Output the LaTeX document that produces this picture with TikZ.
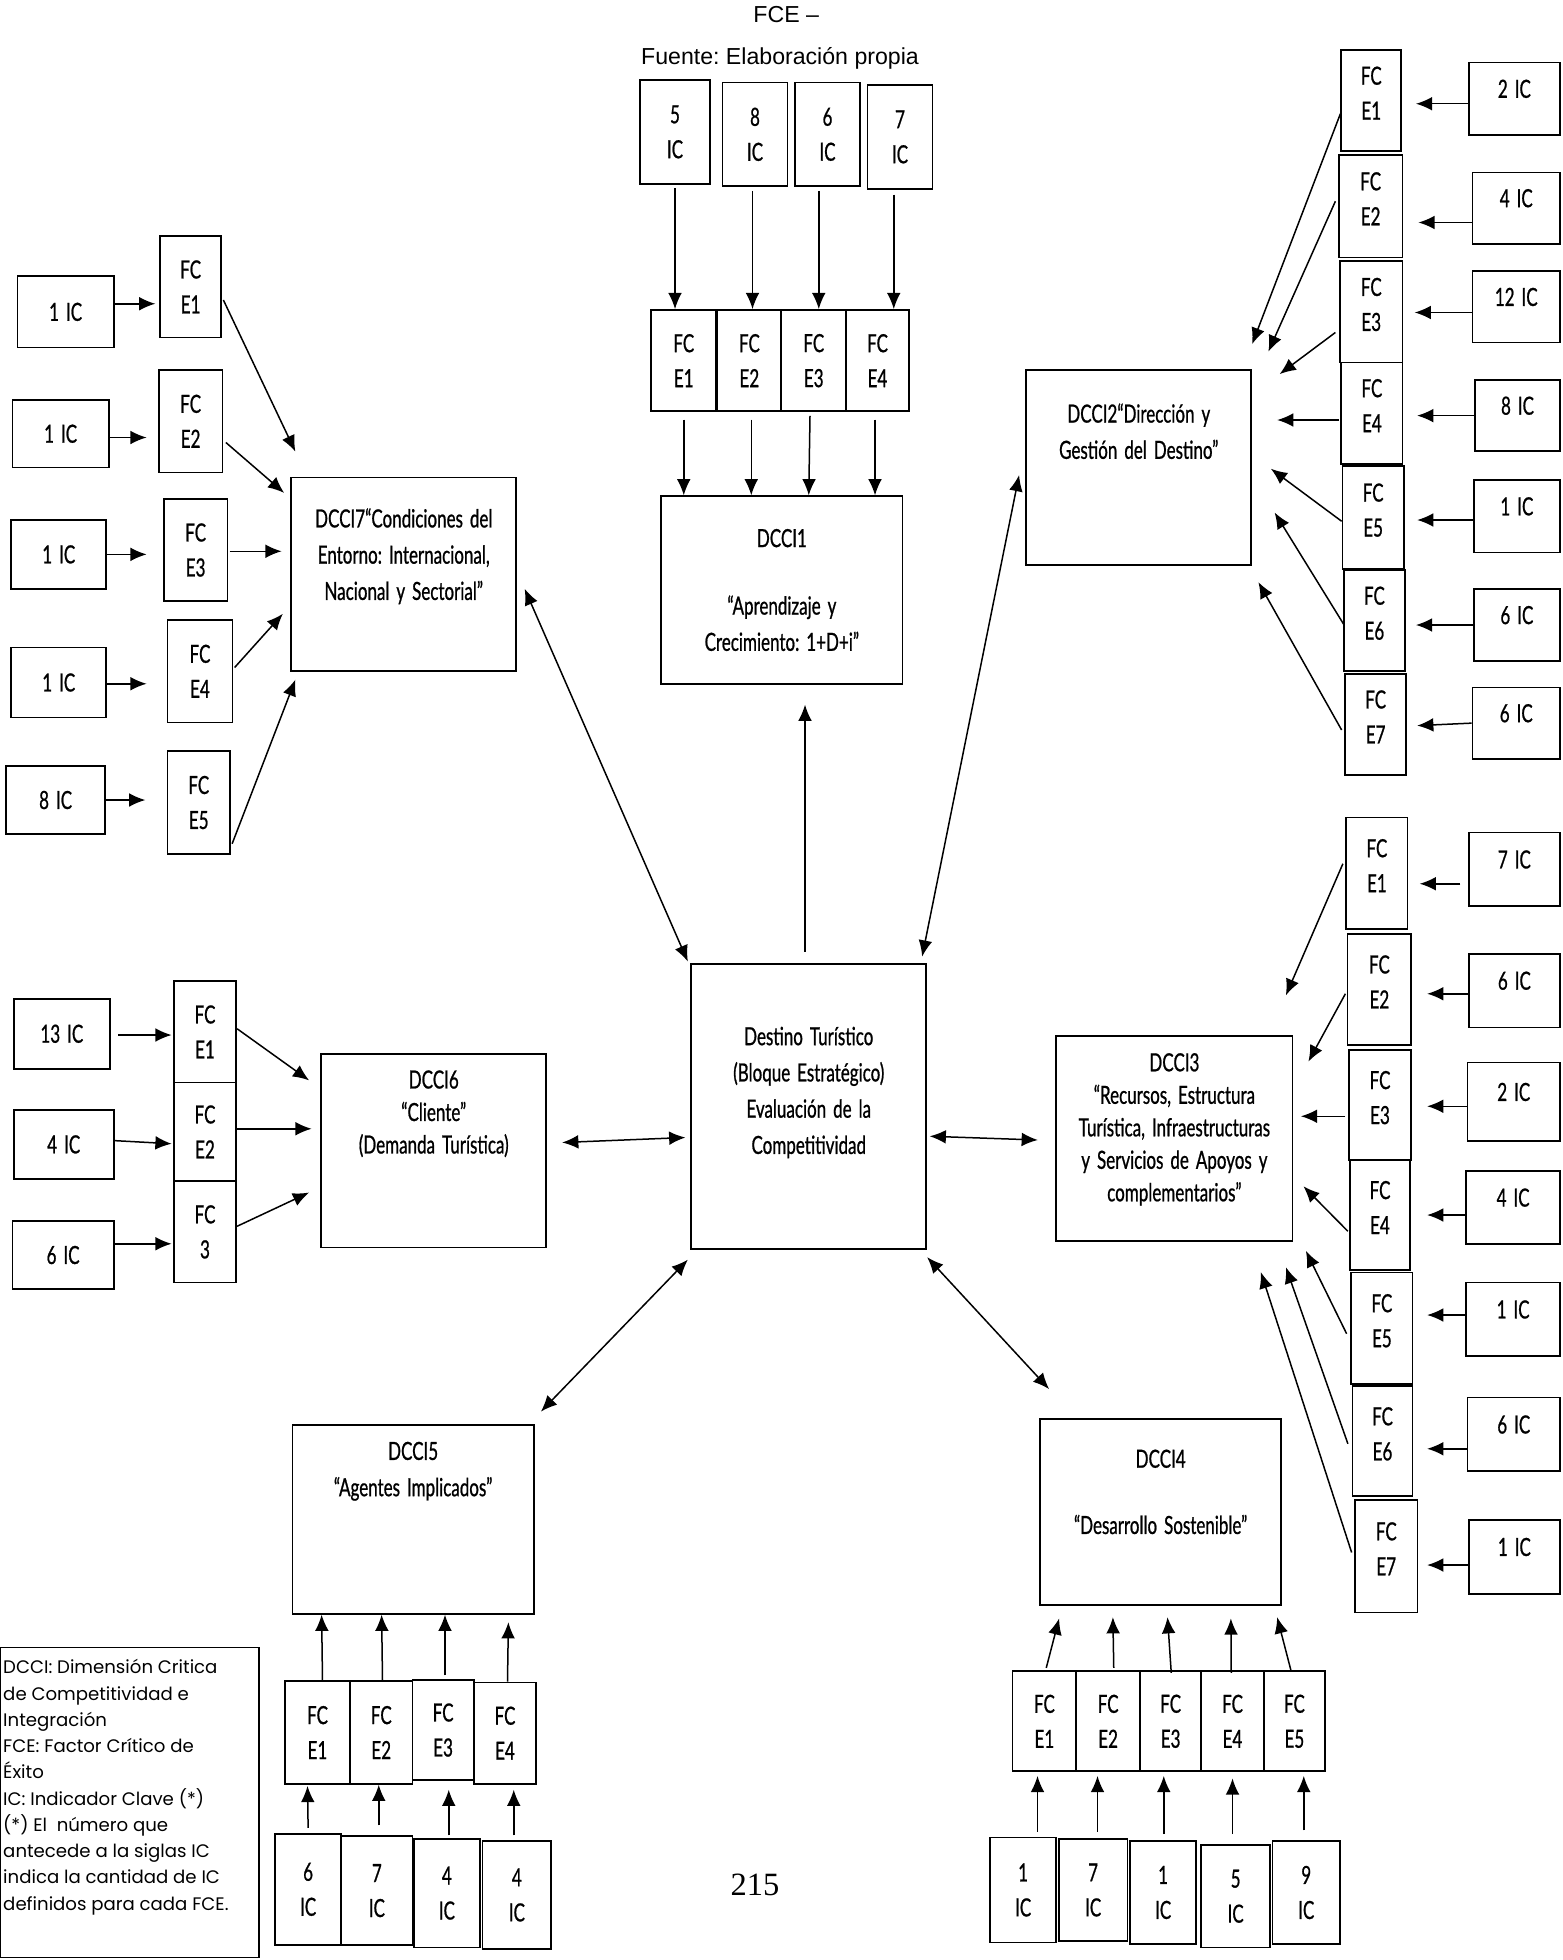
\documentclass[tikz,border=0pt]{standalone}
\usepackage{fontspec}
\usepackage{tikz}
\usetikzlibrary{arrows.meta}
\newfontfamily\dfont{Lato}[FakeStretch=0.68,WordSpace=1.6,FakeBold=0.8]
\newfontfamily\lfont{Poppins}
\newfontfamily\afont{Liberation Sans}
\newfontfamily\tfont{Liberation Serif}
\frenchspacing
\tikzset{
box/.style={draw, line width=1.4pt, inner sep=0pt, align=center, font=\dfont\fontsize{20}{28}\selectfont},
sz/.style 2 args={minimum width=#1pt, minimum height=#2pt},
icr/.style={box, text depth=16pt},
fcr/.style={box, text depth=12pt},
dtext/.style={align=center, inner sep=0pt, font=\dfont\fontsize{20}{29}\selectfont},
arr/.style={line width=1.2pt, -{Latex[length=13pt,width=11pt]}},
darr/.style={line width=1.2pt, {Latex[length=13pt,width=11pt]}-{Latex[length=13pt,width=11pt]}}
}
\begin{document}
\begin{tikzpicture}[x=1pt,y=-1pt]
\useasboundingbox (0,0) rectangle (1250,1568);
\node[font=\afont\fontsize{18.5}{20}\selectfont] (cap1) at (629,12) {FCE –};
\node[font=\afont\fontsize{18.5}{20}\selectfont] (cap2) at (624,47) {Fuente: Elaboración propia};
\node[font=\tfont\fontsize{26}{28}\selectfont] (pnum) at (604,1508) {215};
\node[box, sz={188}{228}] (dest) at (647,885) {};
\node[dtext] (destt) at ([yshift=11pt]dest.center) {Destino Turístico\\(Bloque Estratégico)\\Evaluación de la\\Competitividad};
\node[box, sz={56}{83}] (i11) at (540,105.5) {5\\IC};
\node[box, sz={52}{83}] (i12) at (604,107.5) {8\\IC};
\node[box, sz={52}{83}] (i13) at (662,107.5) {6\\IC};
\node[box, sz={52}{83}] (i14) at (720,109.5) {7\\IC};
\node[box, sz={52}{81}] (f11) at (547,288.5) {FC\\E1};
\node[box, sz={51}{81}] (f12) at (599.5,288.5) {FC\\E2};
\node[box, sz={52}{81}] (f13) at (651,288.5) {FC\\E3};
\node[box, sz={50}{81}] (f14) at (702,288.5) {FC\\E4};
\node[box, sz={193}{150}] (d1) at (625.5,472) {};
\node[dtext] (d1t) at (d1.center) {DCCI1\\[25pt]“Aprendizaje y\\Crecimiento: 1+D+i”};
\draw[arr] ([yshift=-3pt]i11.south) -- ([xshift=-7pt]f11.north);
\draw[arr] ([xshift=-2pt,yshift=-3pt]i12.south) -- ([xshift=2.5pt]f12.north);
\draw[arr] ([xshift=-7pt,yshift=-3pt]i13.south) -- ([xshift=4pt]f13.north);
\draw[arr] ([xshift=-5pt,yshift=-4pt]i14.south) -- ([xshift=13pt]f14.north);
\draw[arr] ([yshift=-6pt]f11.south) -- ([xshift=-78.5pt]d1.north);
\draw[arr] ([xshift=1.5pt,yshift=-6pt]f12.south) -- ([xshift=-24.5pt]d1.north);
\draw[arr] ([xshift=-3pt,yshift=-3pt]f13.south) -- ([xshift=21.5pt]d1.north);
\draw[arr] ([xshift=-2pt,yshift=-6pt]f14.south) -- ([xshift=74.5pt]d1.north);
\draw[arr] ([xshift=-3pt,yshift=9pt]dest.north) -- ([xshift=18.5pt,yshift=-16pt]d1.south);
\node[box, sz={180}{155}] (d7) at (323,459.5) {};
\node[dtext] (d7t) at ([yshift=14.5pt]d7.center) {DCCI7“Condiciones del\\Entorno: Internacional,\\Nacional y Sectorial”};
\node[box, sz={77}{57}] (i71) at (52.5,249.5) {1 IC};
\node[box, sz={49}{81}] (f71) at (152.5,229.5) {FC\\E1};
\node[box, sz={77}{54}] (i72) at (48.5,347) {1 IC};
\node[box, sz={51}{82}] (f72) at (152.5,337) {FC\\E2};
\node[box, sz={76}{55}] (i73) at (47,443.5) {1 IC};
\node[box, sz={51}{82}] (f73) at (156.5,440) {FC\\E3};
\node[box, sz={76}{56}] (i74) at (47,546) {1 IC};
\node[box, sz={52}{82}] (f74) at (160,537) {FC\\E4};
\node[box, sz={79}{54}] (i75) at (44.5,640) {8 IC};
\node[box, sz={50}{82}] (f75) at (159,642) {FC\\E5};
\draw[arr] ([yshift=6.5pt]i71.east) -- ([xshift=-3pt,yshift=-13.5pt]f71.west);
\draw[arr] ([yshift=-3pt]i72.east) -- ([xshift=-9pt,yshift=-13pt]f72.west);
\draw[arr] (i73.east) -- ([xshift=-13pt,yshift=-3.5pt]f73.west);
\draw[arr] ([yshift=-1pt]i74.east) -- ([xshift=-16pt,yshift=-10pt]f74.west);
\draw[arr] (i75.east) -- ([xshift=-17pt,yshift=2pt]f75.west);
\draw[arr] ([xshift=1pt,yshift=-10.5pt]f71.east) -- ([xshift=4pt,yshift=20pt]d7.north west);
\draw[arr] ([xshift=2pt,yshift=-17pt]f72.east) -- ([xshift=-5pt,yshift=-13pt]d7.north west);
\draw[arr] ([xshift=1pt,yshift=-1pt]f73.east) -- ([xshift=-7pt,yshift=18.5pt]d7.west);
\draw[arr] ([xshift=1pt,yshift=3pt]f74.east) -- ([xshift=-6pt,yshift=-31.5pt]d7.west);
\draw[arr] ([xshift=1pt,yshift=-33pt]f75.east) -- ([xshift=4pt,yshift=-6pt]d7.south west);
\draw[darr] ([xshift=6pt,yshift=-11.5pt]d7.east) -- ([xshift=-2pt,yshift=1pt]dest.north west);
\node[box, sz={180}{155}] (d6) at (347,920.5) {};
\node[dtext, font=\dfont\fontsize{20}{26}\selectfont] (d6t) at ([yshift=29.5pt]d6.center) {DCCI6\\“Cliente”\\(Demanda Turística)};
\node[box, sz={77}{56}] (i61) at (49.5,827) {13 IC};
\node[box, sz={50}{81}] (f61) at (164,825.5) {FC\\E1};
\node[box, sz={80}{55}] (i62) at (51,915.5) {4 IC};
\node[box, sz={50}{79}] (f62) at (164,905.5) {FC\\E2};
\node[box, sz={81}{54}] (i63) at (50.5,1004) {6 IC};
\node[box, sz={50}{81}] (f63) at (164,985.5) {FC\\3};
\draw[arr] ([xshift=6pt,yshift=-1pt]i61.east) -- ([xshift=-1pt,yshift=-2.5pt]f61.west);
\draw[arr] ([yshift=3pt]i62.east) -- ([xshift=-1pt,yshift=-9.5pt]f62.west);
\draw[arr] ([yshift=9pt]i63.east) -- ([xshift=-1pt,yshift=-9.5pt]f63.west);
\draw[arr] ([yshift=2.5pt]f61.east) -- ([xshift=-9pt,yshift=-22pt]d6.north west);
\draw[arr] ([yshift=2.5pt]f62.east) -- ([xshift=-7pt,yshift=17.5pt]d6.west);
\draw[arr] ([yshift=4.5pt]f63.east) -- ([xshift=-9pt,yshift=-33.5pt]d6.west);
\draw[darr] ([xshift=12pt,yshift=6.5pt]d6.east) -- ([xshift=-4pt,yshift=-25pt]dest.west);
\node[box, sz={180}{156}] (d2) at (911,374) {};
\node[dtext] (d2t) at ([yshift=29pt]d2.center) {DCCI2“Dirección y\\Gestión del Destino”};
\node[fcr, sz={48}{81}] (f21) at (1097,80.5) {FC\\E1};
\node[fcr, sz={51}{82}] (f22) at (1096.5,165) {FC\\E2};
\node[fcr, sz={50}{81}] (f23) at (1097,249.5) {FC\\E3};
\node[fcr, sz={49}{81}] (f24) at (1097.5,330.5) {FC\\E4};
\node[fcr, sz={49}{82}] (f25) at (1098.5,414) {FC\\E5};
\node[fcr, sz={49}{81}] (f26) at (1099.5,496.5) {FC\\E6};
\node[fcr, sz={49}{81}] (f27) at (1100.5,579.5) {FC\\E7};
\node[icr, sz={73}{58}] (i21) at (1211.5,79) {2 IC};
\node[icr, sz={70}{57}] (i22) at (1213,166.5) {4 IC};
\node[icr, sz={70}{57}] (i23) at (1213,245.5) {12 IC};
\node[icr, sz={68}{57}] (i24) at (1214,332.5) {8 IC};
\node[icr, sz={69}{58}] (i25) at (1213.5,413) {1 IC};
\node[icr, sz={69}{58}] (i26) at (1213.5,500) {6 IC};
\node[icr, sz={70}{57}] (i27) at (1213,578.5) {6 IC};
\draw[arr] ([yshift=-4pt]i21.west) -- ([xshift=11pt,yshift=-2.5pt]f21.east);
\draw[arr] ([yshift=-11.5pt]i22.west) -- ([xshift=12pt,yshift=-13pt]f22.east);
\draw[arr] ([yshift=-4.5pt]i23.west) -- ([xshift=9pt,yshift=-0.5pt]f23.east);
\draw[arr] (i24.west) -- ([xshift=11pt,yshift=-2pt]f24.east);
\draw[arr] ([yshift=-3pt]i25.west) -- ([xshift=10pt,yshift=-2pt]f25.east);
\draw[arr] (i26.west) -- ([xshift=8pt,yshift=-3.5pt]f26.east);
\draw[arr] (i27.west) -- ([xshift=8pt,yshift=-1pt]f27.east);
\draw[arr] ([yshift=-10.5pt]f21.west) -- ([yshift=20pt]d2.north east);
\draw[arr] ([xshift=-2pt,yshift=4pt]f22.west) -- ([xshift=13pt,yshift=14pt]d2.north east);
\draw[arr] ([xshift=-3pt,yshift=-16.5pt]f23.west) -- ([xshift=22pt,yshift=-4pt]d2.north east);
\draw[arr] ([xshift=-1pt,yshift=-5.5pt]f24.west) -- ([xshift=20pt,yshift=38pt]d2.east);
\draw[arr] ([yshift=-3pt]f25.west) -- ([xshift=15pt,yshift=-1pt]d2.east);
\draw[arr] ([xshift=1pt,yshift=-3.5pt]f26.west) -- ([xshift=18pt,yshift=-36pt]d2.east);
\draw[arr] ([xshift=-2pt,yshift=-4.5pt]f27.west) -- ([xshift=5pt,yshift=-13pt]d2.south east);
\draw[darr] ([xshift=-4pt,yshift=5pt]dest.north east) -- ([xshift=-5pt,yshift=-6pt]d2.west);
\node[box, sz={189}{164}] (d3) at (939.5,911) {};
\node[dtext, font=\dfont\fontsize{20}{26}\selectfont] (d3t) at ([yshift=7.5pt]d3.center) {DCCI3\\“Recursos, Estructura\\Turística, Infraestructuras\\y Servicios de Apoyos y\\complementarios”};
\node[fcr, sz={49}{89}] (f31) at (1101.5,698.5) {FC\\E1};
\node[fcr, sz={51}{89}] (f32) at (1103.5,791.5) {FC\\E2};
\node[fcr, sz={50}{88}] (f33) at (1104,884) {FC\\E3};
\node[fcr, sz={48}{88}] (f34) at (1104,972) {FC\\E4};
\node[fcr, sz={49}{89}] (f35) at (1105.5,1062.5) {FC\\E5};
\node[fcr, sz={48}{88}] (f36) at (1106,1153) {FC\\E6};
\node[fcr, sz={50}{90}] (f37) at (1109,1245) {FC\\E7};
\node[icr, sz={73}{59}] (i31) at (1211.5,695.5) {7 IC};
\node[icr, sz={73}{59}] (i32) at (1211.5,792.5) {6 IC};
\node[icr, sz={74}{63}] (i33) at (1211,881.5) {2 IC};
\node[icr, sz={75}{58}] (i34) at (1210.5,966) {4 IC};
\node[icr, sz={75}{59}] (i35) at (1210.5,1055.5) {1 IC};
\node[icr, sz={74}{59}] (i36) at (1211,1147.5) {6 IC};
\node[icr, sz={73}{59}] (i37) at (1211.5,1245.5) {1 IC};
\draw[arr] ([xshift=-6pt,yshift=-11.5pt]i31.west) -- ([xshift=9pt,yshift=-8.5pt]f31.east);
\draw[arr] ([yshift=-2.5pt]i32.west) -- ([xshift=12pt,yshift=-3.5pt]f32.east);
\draw[arr] ([yshift=-3.5pt]i33.west) -- ([xshift=12pt,yshift=-1pt]f33.east);
\draw[arr] ([yshift=-6pt]i34.west) -- ([xshift=13pt]f34.east);
\draw[arr] ([yshift=3.5pt]i35.west) -- ([xshift=11pt,yshift=10.5pt]f35.east);
\draw[arr] ([yshift=-11.5pt]i36.west) -- ([xshift=11pt,yshift=-6pt]f36.east);
\draw[arr] ([yshift=-6.5pt]i37.west) -- ([xshift=7pt,yshift=-7pt]f37.east);
\draw[arr] ([xshift=-2pt,yshift=7.5pt]f31.west) -- ([xshift=-6pt,yshift=32pt]d3.north east);
\draw[arr] ([xshift=-1pt,yshift=-3.5pt]f32.west) -- ([xshift=12pt,yshift=-21pt]d3.north east);
\draw[arr] ([xshift=-2pt,yshift=-9pt]f33.west) -- ([xshift=6pt,yshift=18pt]d3.east);
\draw[arr] ([xshift=-1pt,yshift=-13pt]f34.west) -- ([xshift=8pt,yshift=-38pt]d3.east);
\draw[arr] ([xshift=-3pt,yshift=-4.5pt]f35.west) -- ([xshift=10pt,yshift=-7pt]d3.south east);
\draw[arr] ([xshift=-3pt,yshift=-2pt]f36.west) -- ([xshift=-6pt,yshift=-20pt]d3.south east);
\draw[arr] ([xshift=-2pt,yshift=3pt]f37.west) -- ([xshift=-26pt,yshift=-24pt]d3.south east);
\draw[darr] ([xshift=2pt,yshift=-24pt]dest.east) -- ([xshift=-14pt,yshift=-1pt]d3.west);
\node[box, sz={193}{149}] (d4) at (928.5,1209.5) {};
\node[dtext] (d4t) at ([yshift=16pt]d4.center) {DCCI4\\[24pt]“Desarrollo Sostenible”};
\node[box, sz={51}{80}] (f41) at (835.5,1377) {FC\\E1};
\node[box, sz={51}{80}] (f42) at (886.5,1377) {FC\\E2};
\node[box, sz={49}{80}] (f43) at (936.5,1377) {FC\\E3};
\node[box, sz={50}{80}] (f44) at (986,1377) {FC\\E4};
\node[box, sz={49}{80}] (f45) at (1035.5,1377) {FC\\E5};
\node[box, sz={53}{84}] (i41) at (818.5,1512) {1\\IC};
\node[box, sz={55}{82}] (i42) at (874.5,1512) {7\\IC};
\node[box, sz={53}{82}] (i43) at (930.5,1514) {1\\IC};
\node[box, sz={55}{82}] (i44) at (988.5,1517) {5\\IC};
\node[box, sz={54}{82}] (i45) at (1045,1514) {9\\IC};
\draw[arr] ([xshift=11.5pt,yshift=4pt]i41.north) -- ([xshift=-5.5pt,yshift=-3pt]f41.south);
\draw[arr] ([xshift=3.5pt,yshift=5pt]i42.north) -- ([xshift=-8.5pt,yshift=-3pt]f42.south);
\draw[arr] ([xshift=0.5pt,yshift=5pt]i43.north) -- ([xshift=-5.5pt,yshift=-3pt]f43.south);
\draw[arr] ([xshift=-2.5pt,yshift=8pt]i44.north) -- ([yshift=-5pt]f44.south);
\draw[arr] ([xshift=-2pt,yshift=8pt]i45.north) -- ([xshift=7.5pt,yshift=-3pt]f45.south);
\draw[arr] ([xshift=1.5pt,yshift=2pt]f41.north) -- ([xshift=16pt,yshift=-10pt]d4.south west);
\draw[arr] ([xshift=4.5pt,yshift=2pt]f42.north) -- ([xshift=59pt,yshift=-9pt]d4.south west);
\draw[arr] ([xshift=0.5pt,yshift=-2pt]f43.north) -- ([xshift=5.5pt,yshift=-9pt]d4.south);
\draw[arr] ([xshift=-1pt,yshift=-2pt]f44.north) -- ([xshift=-41pt,yshift=-10pt]d4.south east);
\draw[arr] ([xshift=-2.5pt,yshift=-1pt]f45.north) -- ([xshift=-4pt,yshift=-9pt]d4.south east);
\draw[darr] ([yshift=-6pt]dest.south east) -- ([xshift=8pt,yshift=23pt]d4.north west);
\node[box, sz={193}{151}] (d5) at (330.5,1215.5) {};
\node[dtext] (d5t) at ([yshift=38.5pt]d5.center) {DCCI5\\“Agentes Implicados”};
\node[box, sz={52}{82}] (f51) at (254,1386) {FC\\E1};
\node[box, sz={50}{82}] (f52) at (305,1386) {FC\\E2};
\node[box, sz={49}{80}] (f53) at (354.5,1384) {FC\\E3};
\node[box, sz={50}{81}] (f54) at (404,1386.5) {FC\\E4};
\node[box, sz={53}{89}] (i51) at (246.5,1511.5) {6\\IC};
\node[box, sz={57}{87}] (i52) at (301.5,1512.5) {7\\IC};
\node[box, sz={53}{87}] (i53) at (357.5,1514.5) {4\\IC};
\node[box, sz={55}{86}] (i54) at (413.5,1516) {4\\IC};
\draw[arr] ([yshift=4pt]i51.north) -- ([xshift=-8pt,yshift=-1pt]f51.south);
\draw[arr] ([xshift=1.5pt,yshift=8pt]i52.north) -- ([xshift=-2pt]f52.south);
\draw[arr] ([xshift=1.5pt,yshift=2pt]i53.north) -- ([xshift=4.5pt,yshift=-7pt]f53.south);
\draw[arr] ([xshift=-2.5pt,yshift=4pt]i54.north) -- ([xshift=7pt,yshift=-4pt]f54.south);
\draw[arr] ([xshift=4pt]f51.north) -- ([xshift=24pt]d5.south west);
\draw[arr] ([xshift=1pt]f52.north) -- ([xshift=72pt]d5.south west);
\draw[arr] ([xshift=1.5pt,yshift=3pt]f53.north) -- ([xshift=25.5pt]d5.south);
\draw[arr] ([xshift=2pt]f54.north) -- ([xshift=-21pt,yshift=-6pt]d5.south east);
\draw[darr] ([xshift=-2pt,yshift=-8pt]dest.south west) -- ([xshift=5pt,yshift=10pt]d5.north east);
\node[draw, line width=1.2pt, inner sep=0pt, sz={207}{248}] (leg) at (103.5,1442) {};
\node[anchor=north west, align=left, inner sep=0pt, font=\lfont\fontsize{14.5}{21}\selectfont] (legt) at ([xshift=3pt,yshift=-10pt]leg.north west) {DCCI: Dimensión Critica\\de Competitividad e\\Integración\\FCE: Factor Crítico de\\Éxito\\IC: Indicador Clave (*)\\(*) El~~número que\\antecede a la siglas IC\\indica la cantidad de IC\\definidos para cada FCE.};
\end{tikzpicture}
\end{document}
